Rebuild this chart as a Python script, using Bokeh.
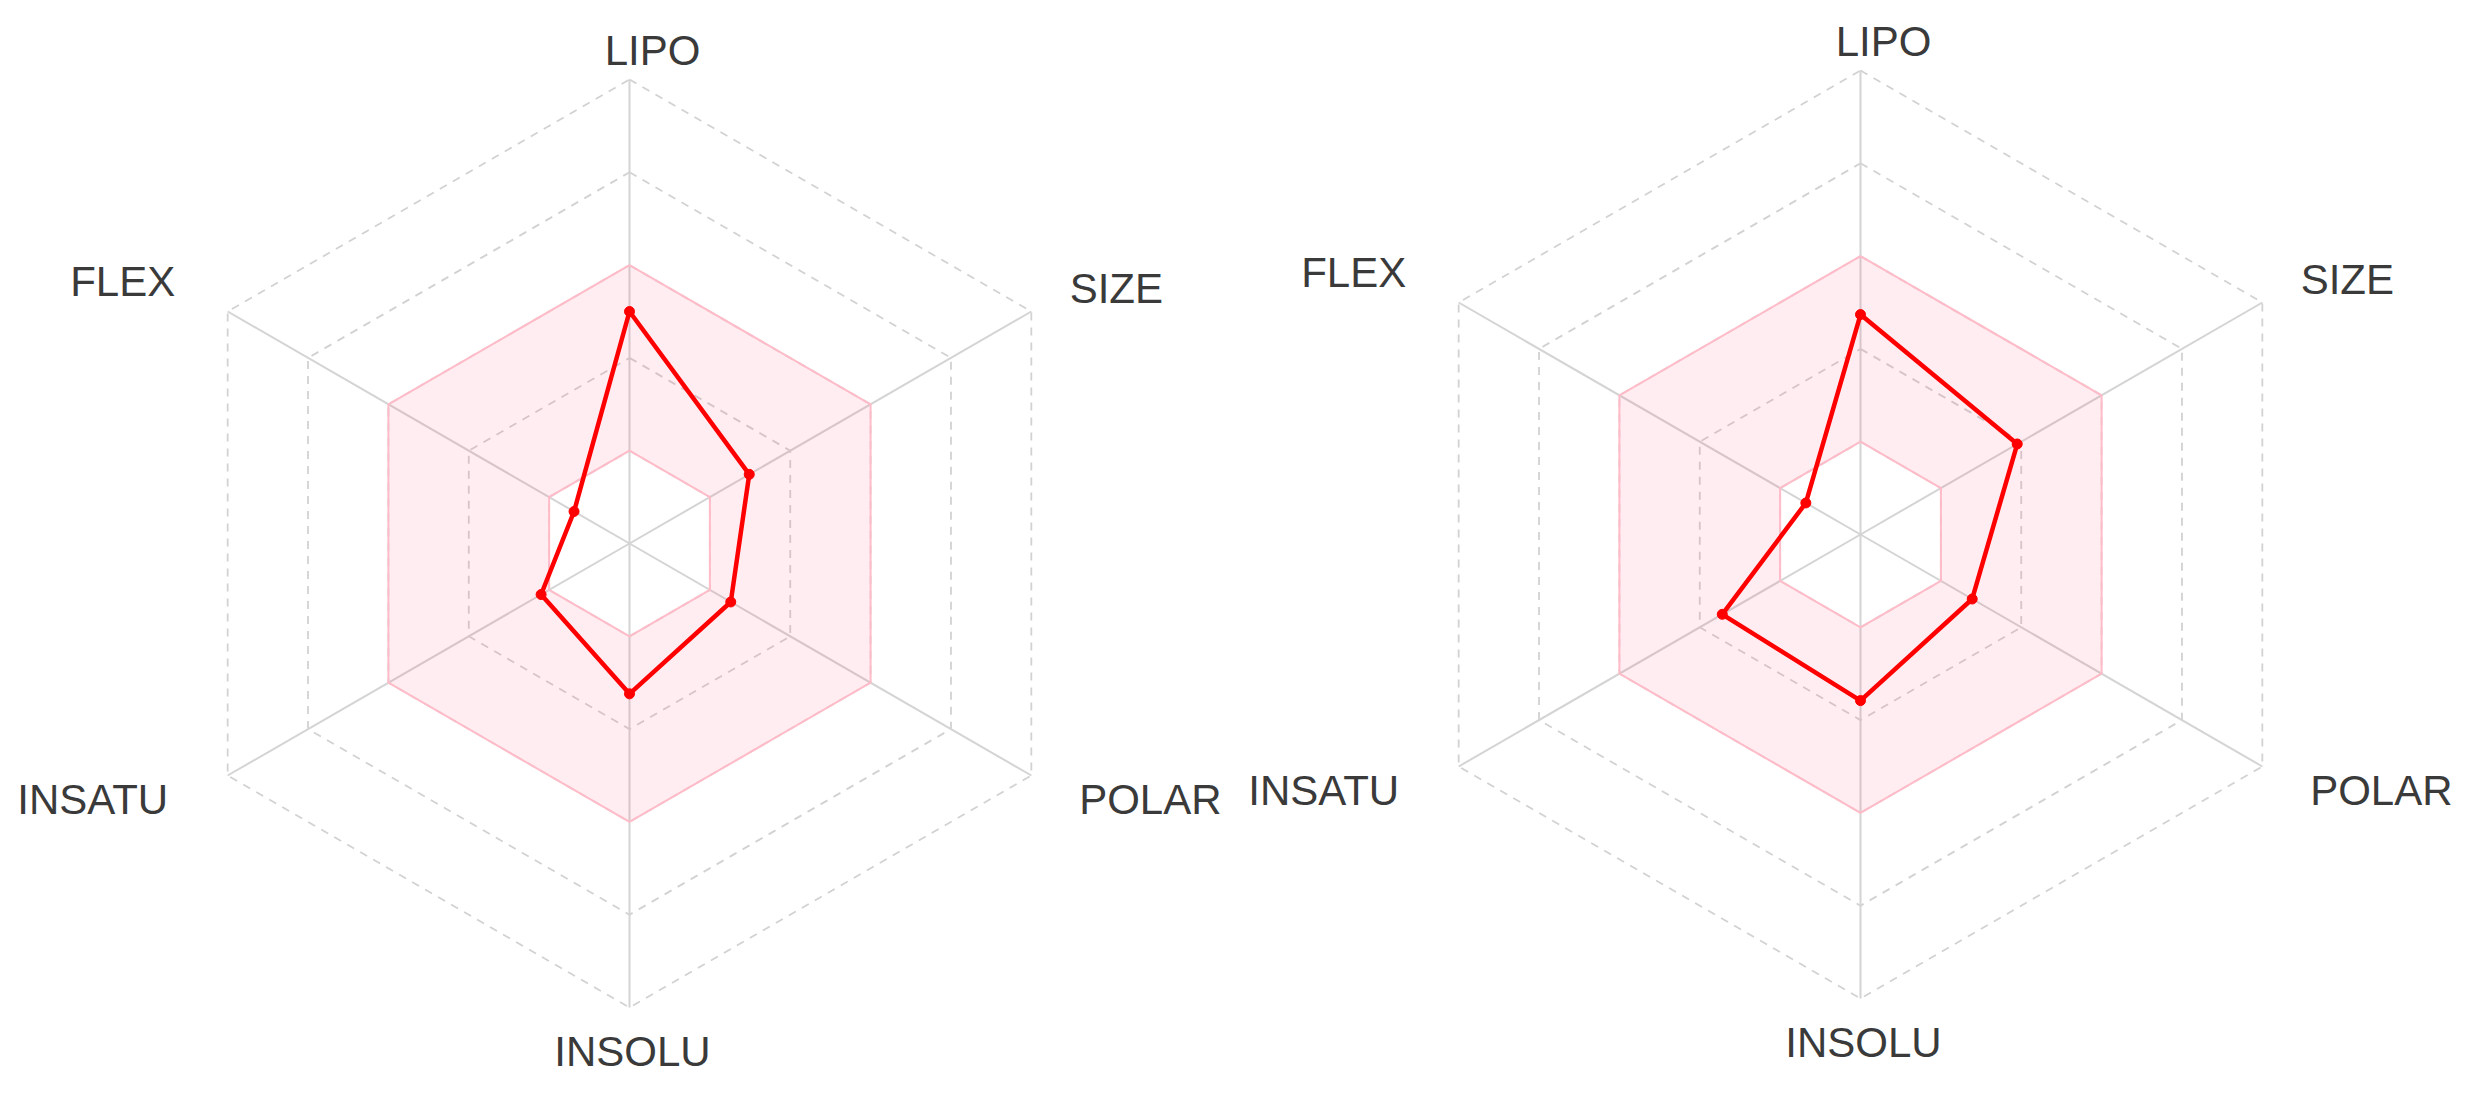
import numpy as np
from bokeh.plotting import figure
from bokeh.layouts import row
from bokeh.models import Range1d, ColumnDataSource
from bokeh.core.properties import value
from bokeh.embed import file_html
from bokeh.resources import INLINE

# ---- data ----
axes_labels = ["LIPO", "SIZE", "POLAR", "INSOLU", "INSATU", "FLEX"]
compound_1 = [2.50, 1.49, 1.26, 1.62, 1.10, 0.69]
compound_2 = [2.37, 1.95, 1.39, 1.79, 1.72, 0.68]
ring_levels = [1, 2, 3, 4, 5]
optimal_low = 1
optimal_high = 3

# ---- layout / style ----
U = 92.8                      # pixels per radar unit
FIG_W, FIG_H = 1234, 1090
centers_px = [(629, 543), (626, 534)]   # radar centre inside each figure (px from top-left)
label_offsets = [(23, -29), (85, -23), (119, 24), (3, 44), (-135, 24), (-105, -30)]
angles = np.deg2rad([90, 30, -30, -90, -150, 150])


def hexagon(r):
    return list(r * np.cos(angles)), list(r * np.sin(angles))


def make_radar(vals, center):
    cx, cy = center
    p = figure(width=FIG_W, height=FIG_H, output_backend="svg", toolbar_location=None,
               x_range=Range1d(-cx / U, (FIG_W - cx) / U),
               y_range=Range1d(-(FIG_H - cy) / U, cy / U),
               min_border=0, outline_line_color=None)
    p.axis.visible = False
    p.grid.visible = False
    p.background_fill_color = "white"

    # rings (dashed) and spokes (solid)
    for lv in ring_levels:
        hx, hy = hexagon(lv)
        p.line(hx + hx[:1], hy + hy[:1], line_color="#d2d2d2", line_width=1.8, line_dash="8 7")
    for a in angles:
        p.line([0, ring_levels[-1] * np.cos(a)], [0, ring_levels[-1] * np.sin(a)],
               line_color="#d4d4d4", line_width=2)

    # optimal (pink) band
    ox, oy = hexagon(optimal_high)
    ix, iy = hexagon(optimal_low)
    p.multi_polygons(xs=[[[ox, ix]]], ys=[[[oy, iy]]], fill_color="#ff3366", fill_alpha=0.09,
                     line_color=None)
    p.line(ox + ox[:1], oy + oy[:1], line_color="#ffbcc8", line_width=2)
    p.line(ix + ix[:1], iy + iy[:1], line_color="#ffbcc8", line_width=2)

    # compound
    v = np.array(vals)
    px = list(v * np.cos(angles))
    py = list(v * np.sin(angles))
    p.line(px + px[:1], py + py[:1], line_color="#ff0000", line_width=4.5)
    p.scatter(px, py, size=10, fill_color="#ff0000", line_color="#ff0000")

    # labels
    lx, ly = hexagon(ring_levels[-1])
    src = ColumnDataSource(dict(x=lx, y=ly, t=axes_labels,
                                dx=[o[0] for o in label_offsets],
                                dy=[o[1] for o in label_offsets]))
    p.text(x="x", y="y", text="t", x_offset="dx", y_offset="dy", source=src,
           text_align="center", text_baseline="middle",
           text_font=value("Liberation Sans"), text_font_size="42px", text_color="#3a3a3a")
    return p


p1 = make_radar(compound_1, centers_px[0])
p2 = make_radar(compound_2, centers_px[1])
layout = row(p1, p2)

open("out.html", "w").write(file_html(layout, INLINE))
